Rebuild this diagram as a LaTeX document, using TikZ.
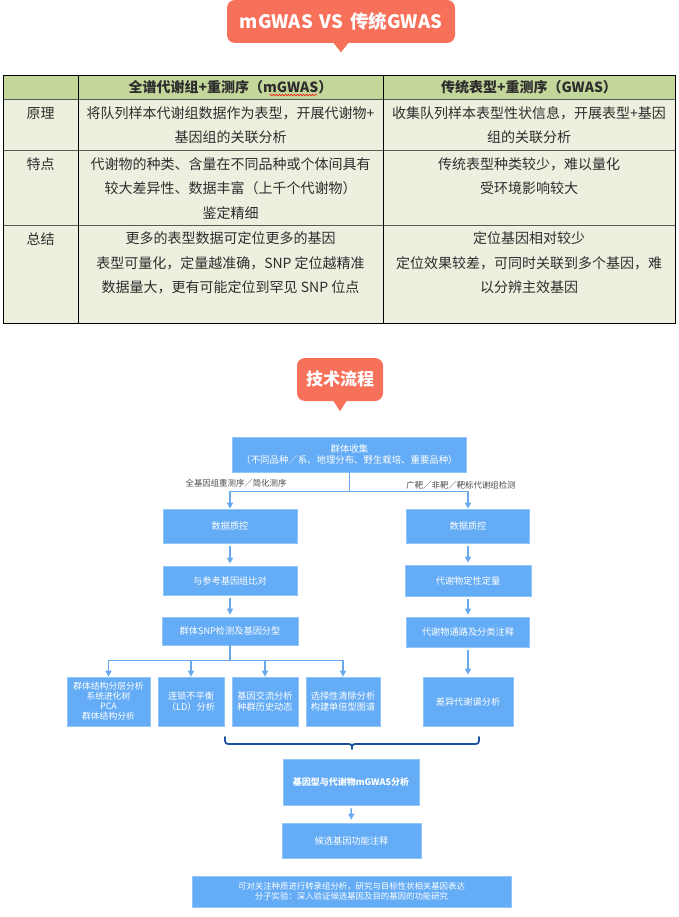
\documentclass[tikz,border=0pt]{standalone}
\usepackage{fontspec}
\setmainfont{Noto Sans CJK SC}
\usetikzlibrary{arrows.meta,calc,decorations.pathmorphing}
\definecolor{coral}{RGB}{246,112,90}
\definecolor{hdrgreen}{RGB}{196,215,155}
\definecolor{bodygreen}{RGB}{235,241,222}
\definecolor{boxblue}{RGB}{100,172,245}
\definecolor{linkblue}{RGB}{105,170,238}
\definecolor{bracecol}{RGB}{30,80,160}
\definecolor{txt}{RGB}{45,45,45}
\definecolor{gridgray}{RGB}{90,90,90}
\tikzset{
  bubble/.style={fill=coral, rounded corners=8pt, text=white, inner sep=0pt},
  cell/.style={text=txt, align=center, inner sep=0pt, font=\fontsize{14}{24.5}\selectfont},
  hcell/.style={text=txt, align=center, inner sep=0pt, font=\bfseries\fontsize{14}{16}\selectfont},
  fbox/.style={fill=boxblue, draw=boxblue!70!white, line width=0.6pt, text=white, align=center, inner sep=1pt, font=\fontsize{9.2}{10.2}\selectfont},
  conn/.style={draw=linkblue, line width=1.4pt},
  arr/.style={conn, -{Triangle[width=6pt,length=6pt]}},
  lbl/.style={text=txt!85, inner sep=0pt, font=\fontsize{8.4}{10}\selectfont},
  gridline/.style={draw=gridgray, line width=0.8pt},
  outline/.style={draw=black, line width=1pt}
}
\begin{document}
\begin{tikzpicture}[x=1pt,y=-1pt]
\useasboundingbox (0,0) rectangle (679,917);
\fill[white] (0,0) rectangle (679,917);

% ---- title bubble ----
\node[bubble, minimum width=228pt, minimum height=43pt, font=\bfseries\fontsize{18.5}{20}\selectfont] (title) at (341,21.5) {mGWAS\hspace{7pt}VS\hspace{7pt}传统GWAS};
\fill[coral] ($(title.south)+(-8,-1)$) -- ($(title.south)+(0,9)$) -- ($(title.south)+(8,-1)$) -- cycle;

% ---- table ----
\fill[hdrgreen] (3,76) rectangle (675,99);
\fill[bodygreen] (3,99) rectangle (675,323);
\draw[gridline] (3,99) -- (675,99);
\draw[gridline] (3,150) -- (675,150);
\draw[gridline] (3,225) -- (675,225);
\draw[outline] (78,76) -- (78,323);
\draw[outline] (383,76) -- (383,323);
\draw[outline] (3,76) rectangle (675,323);

\node[hcell] (h2) at (230.5,87.5) {全谱代谢组+重测序（mGWAS）};
\node[hcell] (h3) at (529,87.5) {传统表型+重测序（GWAS）};
\draw[red, line width=0.5pt, decorate, decoration={snake, amplitude=0.8pt, segment length=3pt}] ($(h2.east)+(-63,7.5)$) -- ($(h2.east)+(-15,7.5)$);

\node[cell] (yl) at (40.5,113) {原理};
\node[cell] (tl) at (40.5,164) {特点};
\node[cell] (zl) at (40.5,239) {总结};

\node[cell] (p2) at (230.5,125.25) {将队列样本代谢组数据作为表型，开展代谢物+\\基因组的关联分析};
\node[cell] (p3) at (529,125.25) {收集队列样本表型性状信息，开展表型+基因\\组的关联分析};
\node[cell] (t2) at (230.5,188.5) {代谢物的种类、含量在不同品种或个体间具有\\较大差异性、数据丰富（上千个代谢物）\\鉴定精细};
\node[cell] (t3) at (529,176.25) {传统表型种类较少，难以量化\\受环境影响较大};
\node[cell] (z2) at (230.5,263) {更多的表型数据可定位更多的基因\\表型可量化，定量越准确，SNP 定位越精准\\数据量大，更有可能定位到罕见 SNP 位点};
\node[cell] (z3) at (529,263) {定位基因相对较少\\定位效果较差，可同时关联到多个基因，难\\以分辨主效基因};

% ---- second bubble ----
\node[bubble, minimum width=86pt, minimum height=43pt, font=\bfseries\fontsize{17}{19}\selectfont] (flowtitle) at (340,379.5) {技术流程};
\fill[coral] ($(flowtitle.south)+(-7,-1)$) -- ($(flowtitle.south)+(0,10)$) -- ($(flowtitle.south)+(7,-1)$) -- cycle;

% ---- flowchart nodes ----
\node[fbox, minimum width=234pt, minimum height=35pt, font=\fontsize{9.4}{10.5}\selectfont] (top) at (349.5,454.5) {群体收集\\（不同品种／系、地理分布、野生栽培、重要品种）};

\node[fbox, minimum width=134pt, minimum height=34pt] (L1) at (230,526) {数据质控};
\node[fbox, minimum width=134pt, minimum height=29pt] (L2) at (230,580.5) {与参考基因组比对};
\node[fbox, minimum width=136pt, minimum height=28pt] (L3) at (230,631) {群体SNP检测及基因分型};

\node[fbox, minimum width=123pt, minimum height=34pt] (R1) at (468,526) {数据质控};
\node[fbox, minimum width=126pt, minimum height=31pt] (R2) at (468,580.5) {代谢物定性定量};
\node[fbox, minimum width=123pt, minimum height=30pt] (R3) at (468,632) {代谢物通路及分类注释};
\node[fbox, minimum width=90pt, minimum height=49pt] (R4) at (468,701.5) {差异代谢谱分析};

\node[fbox, minimum width=83pt, minimum height=49pt, font=\fontsize{8.8}{10}\selectfont] (B1) at (108.5,701.5) {群体结构分层分析\\系统进化树\\PCA\\群体结构分析};
\node[fbox, minimum width=66pt, minimum height=49pt] (B2) at (191,701.5) {连锁不平衡\\（LD）分析};
\node[fbox, minimum width=66pt, minimum height=49pt] (B3) at (265,701.5) {基因交流分析\\种群历史动态};
\node[fbox, minimum width=74pt, minimum height=49pt] (B4) at (343,701.5) {选择性清除分析\\构建单倍型图谱};

\node[fbox, minimum width=136pt, minimum height=46pt, font=\bfseries\fontsize{9}{11}\selectfont] (M) at (351,782) {基因型与代谢物mGWAS分析};
\node[fbox, minimum width=139pt, minimum height=35pt] (C) at (351.5,840.5) {候选基因功能注释};
\node[fbox, minimum width=319pt, minimum height=31pt, font=\fontsize{8.4}{10.5}\selectfont] (D) at (351.5,891.5) {可对关注种质进行转录组分析，研究与目标性状相关基因表达\\分子实验：深入验证候选基因及目的基因的功能研究};

% ---- labels ----
\node[lbl] (lblL) at (236,483) {全基因组重测序／简化测序};
\node[lbl] (lblR) at (461,485) {广靶／非靶／靶标代谢组检测};

% ---- connectors ----
\draw[conn] (top.south) -- ($(top.south)+(0,19)$) coordinate (sp1);
\draw[arr] (sp1) -| (L1.north);
\draw[arr] (sp1) -| (R1.north);

\draw[arr, shorten <=3pt, shorten >=2pt] (L1.south) -- (L2.north);
\draw[arr, shorten <=3pt, shorten >=2pt] (L2.south) -- (L3.north);
\draw[arr, shorten <=3pt, shorten >=2pt] (R1.south) -- (R2.north);
\draw[arr, shorten <=3pt, shorten >=2pt] (R2.south) -- (R3.north);
\draw[arr, shorten <=3pt, shorten >=2pt] (R3.south) -- (R4.north);

\draw[conn] (L3.south) -- ($(L3.south)+(0,15)$) coordinate (sp2);
\draw[arr] (sp2) -| (B1.north);
\draw[arr] (sp2) -| (B2.north);
\draw[arr] (sp2) -| (B3.north);
\draw[arr] (sp2) -| (B4.north);

\draw[arr, shorten <=3pt, shorten >=3pt] (M.south) -- (C.north);

% ---- brace ----
\draw[bracecol, line width=1.8pt, line cap=round, line join=round]
  (225,737) .. controls (225,744) .. (232,744) -- (345,744)
  .. controls (352,744) .. (352,749)
  .. controls (352,744) .. (359,744) -- (472,744)
  .. controls (479,744) .. (479,737);
\end{tikzpicture}
\end{document}
